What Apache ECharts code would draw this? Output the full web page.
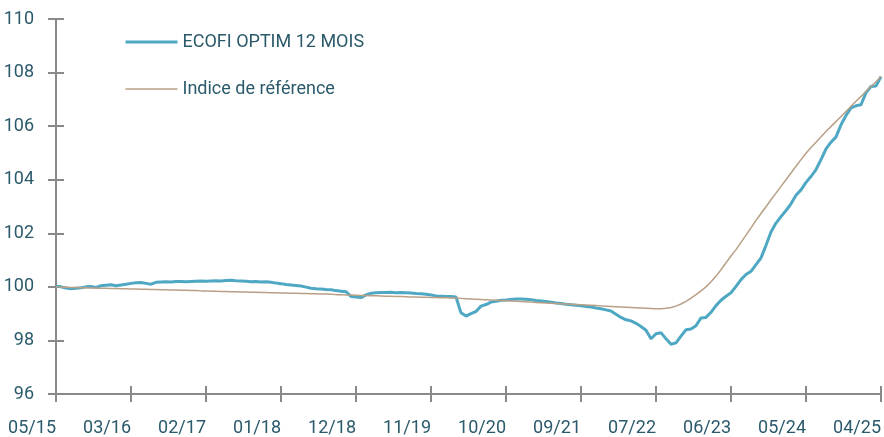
<!DOCTYPE html>
<html>
<head>
<meta charset="utf-8">
<script src="https://cdn.jsdelivr.net/npm/echarts@6/dist/echarts.min.js"></script>
<style>
  html, body { margin: 0; padding: 0; background: #ffffff; }
  #chart { width: 884px; height: 437px; }
</style>
</head>
<body>
<div id="chart"></div>
<script>
const tickLabels = ['05/15','03/16','02/17','01/18','12/18','11/19','10/20','09/21','07/22','06/23','05/24','04/25'];
const pointsPerTick = 15;
const yTicks = { min: 96, max: 110, step: 2 };
const seriesNames = ['ECOFI OPTIM 12 MOIS', 'Indice de référence'];

const ecofi = [
  100.02,100.00,99.96,99.93,99.95,99.97,100.00,100.01,99.98,100.04,
  100.06,100.08,100.04,100.07,100.10,100.13,100.15,100.16,100.13,100.10,
  100.17,100.18,100.19,100.18,100.20,100.20,100.19,100.20,100.21,100.22,
  100.21,100.22,100.23,100.22,100.24,100.25,100.23,100.22,100.21,100.19,
  100.20,100.18,100.19,100.17,100.14,100.12,100.09,100.07,100.05,100.03,
  99.99,99.95,99.93,99.92,99.90,99.89,99.86,99.84,99.82,99.64,
  99.62,99.60,99.70,99.76,99.78,99.79,99.79,99.80,99.78,99.79,
  99.78,99.77,99.75,99.74,99.72,99.70,99.66,99.65,99.64,99.64,
  99.62,99.03,98.91,99.00,99.08,99.28,99.34,99.43,99.46,99.50,
  99.51,99.53,99.55,99.55,99.54,99.52,99.49,99.47,99.45,99.43,
  99.40,99.38,99.35,99.33,99.31,99.29,99.27,99.25,99.21,99.18,
  99.14,99.10,98.98,98.86,98.77,98.73,98.64,98.52,98.38,98.06,
  98.25,98.29,98.06,97.86,97.91,98.16,98.40,98.43,98.55,98.84,
  98.86,99.05,99.30,99.50,99.65,99.78,100.02,100.27,100.46,100.58,
  100.83,101.08,101.55,102.05,102.38,102.62,102.85,103.10,103.42,103.62,
  103.90,104.12,104.38,104.75,105.15,105.40,105.60,106.05,106.40,106.68,
  106.76,106.80,107.25,107.48,107.50,107.85
];

const reference = [
  100.00,99.99,99.99,99.98,99.98,99.97,99.97,99.96,99.96,99.95,
  99.95,99.94,99.94,99.93,99.93,99.92,99.92,99.91,99.91,99.90,
  99.90,99.89,99.89,99.88,99.88,99.87,99.87,99.86,99.86,99.85,
  99.85,99.84,99.84,99.83,99.83,99.82,99.82,99.81,99.81,99.80,
  99.80,99.79,99.79,99.78,99.78,99.77,99.77,99.76,99.76,99.75,
  99.75,99.74,99.74,99.73,99.73,99.72,99.71,99.71,99.70,99.70,
  99.69,99.68,99.68,99.67,99.67,99.66,99.65,99.65,99.64,99.64,
  99.63,99.62,99.62,99.61,99.61,99.60,99.60,99.59,99.59,99.58,
  99.58,99.57,99.56,99.55,99.54,99.53,99.52,99.51,99.50,99.49,
  99.48,99.47,99.46,99.45,99.44,99.43,99.42,99.41,99.40,99.39,
  99.38,99.37,99.36,99.35,99.34,99.33,99.32,99.31,99.30,99.29,
  99.28,99.27,99.26,99.25,99.24,99.23,99.22,99.21,99.20,99.19,
  99.18,99.18,99.20,99.23,99.28,99.36,99.46,99.58,99.71,99.85,
  100.00,100.19,100.40,100.64,100.90,101.15,101.39,101.66,101.93,102.20,
  102.48,102.74,102.99,103.25,103.50,103.75,104.00,104.25,104.50,104.75,
  104.99,105.20,105.40,105.60,105.80,105.99,106.17,106.36,106.55,106.74,
  106.93,107.11,107.30,107.48,107.66,107.85
];

const categories = ecofi.map((_, i) => String(i));
const FONT = "Roboto, 'Noto Sans', sans-serif";
const TEXT = '#2b5a6b';
const AXIS = '#8a8a8a';
const C_ECOFI = '#4fa8c3';
const C_REF = '#b89f86';

const chart = echarts.init(document.getElementById('chart'), null, { renderer: 'canvas' });
const labelFmt = (v, idx) => (idx % pointsPerTick === 0 ? tickLabels[idx / pointsPerTick] : '');

chart.setOption({
  animation: false,
  backgroundColor: '#ffffff',
  grid: { left: 56, top: 19, width: 830.4, height: 375.7, containLabel: false },
  legend: {
    orient: 'vertical',
    left: 124,
    top: 33,
    padding: 0,
    itemWidth: 52,
    itemHeight: 22,
    itemGap: 29,
    itemStyle: { opacity: 0 },
    data: [
      { name: seriesNames[0], itemStyle: { opacity: 0 }, lineStyle: { color: C_ECOFI, width: 3 } },
      { name: seriesNames[1], itemStyle: { opacity: 0 }, lineStyle: { color: C_REF, width: 1.5 } }
    ],
    textStyle: { fontFamily: FONT, fontSize: 18, color: TEXT }
  },
  xAxis: [
    {
      type: 'category',
      data: categories,
      boundaryGap: false,
      axisLine: { show: true, lineStyle: { color: AXIS, width: 2 } },
      axisTick: { show: true, interval: pointsPerTick - 1, length: 8, lineStyle: { color: AXIS, width: 2 } },
      axisLabel: { interval: pointsPerTick - 1, formatter: labelFmt, align: 'right', margin: 25,
                   fontFamily: FONT, fontSize: 18, color: TEXT },
      splitLine: { show: false }
    },
    {
      type: 'category',
      data: categories,
      position: 'bottom',
      boundaryGap: false,
      axisLine: { show: false },
      axisTick: { show: true, inside: true, interval: pointsPerTick - 1, length: 8, lineStyle: { color: AXIS, width: 2 } },
      axisLabel: { show: false },
      splitLine: { show: false }
    }
  ],
  yAxis: [
    {
      type: 'value',
      min: yTicks.min, max: yTicks.max, interval: yTicks.step,
      axisLine: { show: true, lineStyle: { color: AXIS, width: 2 } },
      axisTick: { show: true, length: 8, lineStyle: { color: AXIS, width: 2 } },
      axisLabel: { margin: 22, fontFamily: FONT, fontSize: 18, color: TEXT },
      splitLine: { show: false }
    },
    {
      type: 'value',
      position: 'left',
      min: yTicks.min, max: yTicks.max, interval: yTicks.step,
      axisLine: { show: false },
      axisTick: { show: true, inside: true, length: 8, lineStyle: { color: AXIS, width: 2 } },
      axisLabel: { show: false },
      splitLine: { show: false }
    }
  ],
  series: [
    {
      name: seriesNames[0],
      type: 'line',
      data: ecofi,
      symbol: 'none',
      lineStyle: { color: C_ECOFI, width: 3 },
      itemStyle: { color: C_ECOFI },
      z: 2
    },
    {
      name: seriesNames[1],
      type: 'line',
      data: reference,
      symbol: 'none',
      lineStyle: { color: C_REF, width: 1.5 },
      itemStyle: { color: C_REF },
      z: 3
    }
  ]
});
</script>
</body>
</html>
